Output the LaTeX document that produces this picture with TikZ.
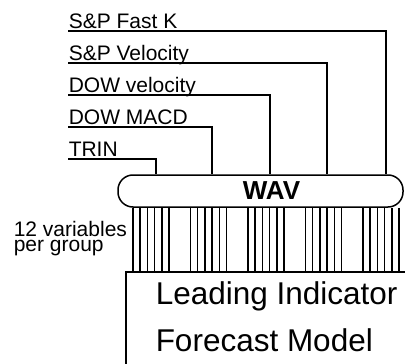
\documentclass[tikz,border=0pt]{standalone}
\usepackage{fontspec}
\setmainfont{Liberation Sans}
\usetikzlibrary{positioning}

\begin{document}
\begin{tikzpicture}[
    x=1pt, y=-1pt,
    line width=1.5pt,
    feed/.style={font=\fontsize{21}{21}\selectfont, inner sep=0pt, anchor=base west},
    pill/.style={draw, rounded corners=15pt, minimum width=285pt, minimum height=32pt, inner sep=0pt},
    modelbox/.style={draw, anchor=north west, minimum width=320pt, minimum height=140pt, inner sep=0pt},
    big/.style={font=\fontsize{31.5}{31.5}\selectfont, inner sep=0pt, anchor=base west}
  ]
    \useasboundingbox (0,0) rectangle (405,364);
    \clip (0,0) rectangle (405,364);

    \node[feed] (fastk) at (68,28) {S\&P Fast K};
    \node[feed] (spvel) at (68,60) {S\&P Velocity};
    \node[feed] (dowvel) at (68,92) {DOW velocity};
    \node[feed] (macd) at (68,124) {DOW MACD};
    \node[feed] (trin) at (68,156) {TRIN};

    \node[pill] (wav) at (260.5,191) {};
    \node[font=\bfseries\fontsize{26}{26}\selectfont, inner sep=0pt] (wavtext) at (271.5,191) {WAV};

    \node[modelbox] (model) at (125,271) {};
    \node[big] (lead) at (155,304) {Leading Indicator};
    \node[big] (fcast) at (155,351) {Forecast Model};

    \node[feed, font=\fontsize{21}{15.5}\selectfont, align=left] (groups) at (13,251.5) {12 variables\\per group};

    % inputs into the WAV
    \draw ([yshift=-3pt]fastk.base west) -| (386,0 |- wav.north);
    \draw ([yshift=-3pt]spvel.base west) -| (327,0 |- wav.north);
    \draw ([yshift=-3pt]dowvel.base west) -| (270,0 |- wav.north);
    \draw ([yshift=-3pt]macd.base west) -| (212,0 |- wav.north);
    \draw ([yshift=-3pt]trin.base west) -| (156,0 |- wav.north);

    % 12 variables per group
    \foreach \g in {0,...,4} {
      \foreach \i in {0,...,5} {
        \pgfmathsetmacro\bx{133+57.5*\g+7.2*\i}
        \draw (\bx,0 |- wav.south) -- (\bx,0 |- model.north);
      }
    }
  \end{tikzpicture}
\end{document}
